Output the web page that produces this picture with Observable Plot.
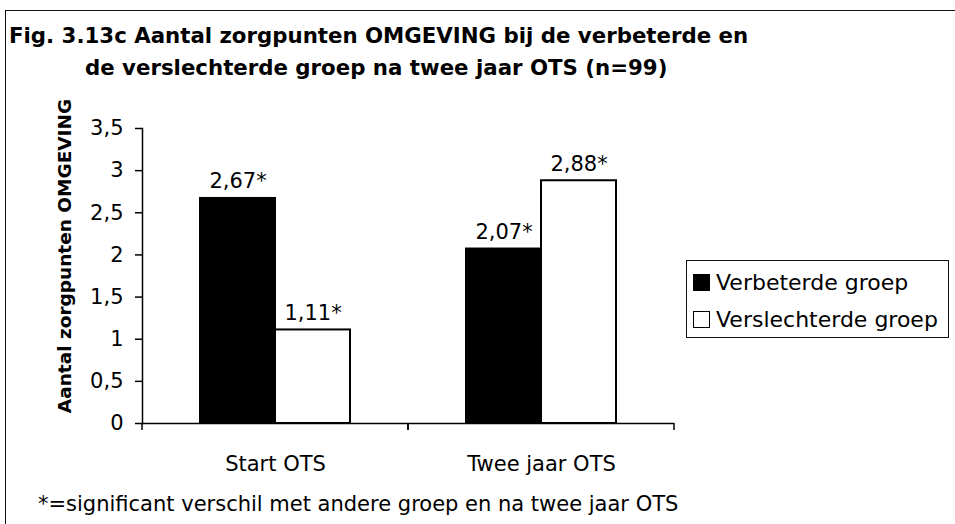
<!DOCTYPE html>
<html><head><meta charset="utf-8">
<script src="https://cdn.jsdelivr.net/npm/d3@7"></script>
<script src="https://cdn.jsdelivr.net/npm/@observablehq/plot@0.6"></script>
<style>
body{margin:0;background:#fff;font-family:"DejaVu Sans",sans-serif;color:#000;}
#wrap{position:relative;width:955px;height:524px;overflow:hidden;background:#fff;}
#box{position:absolute;left:5px;top:10px;width:990px;height:560px;border-left:1.5px solid #111;border-top:1.5px solid #111;}
#title{position:absolute;left:9px;top:20px;font-weight:bold;font-size:21.3px;line-height:32px;white-space:nowrap;}
#title .l2{padding-left:76px;}
#chart{position:absolute;left:0;top:0;}
#legend{position:absolute;left:686px;top:260px;width:263px;height:78px;border:1.5px solid #111;box-sizing:border-box;font-size:22px;padding:3px 0 0 6px;}
#legend .row{display:flex;align-items:center;height:37px;white-space:nowrap;}
#legend .sw{width:15px;height:15px;border:1.5px solid #000;margin-right:6px;flex:none;}
#foot{position:absolute;left:38px;top:492px;font-size:21px;line-height:24px;white-space:nowrap;}
</style></head>
<body>
<div id="wrap">
  <div id="box"></div>
  <div id="chart"></div>
  <div id="title"></div>
  <div id="legend"></div>
  <div id="foot"></div>
</div>
<script>
const titleLines = ["Fig. 3.13c Aantal zorgpunten OMGEVING bij de verbeterde en", "de verslechterde groep na twee jaar OTS (n=99)"];
const yLabel = "Aantal zorgpunten OMGEVING";
const footnote = "*=significant verschil met andere groep en na twee jaar OTS";
const categories = ["Start OTS", "Twee jaar OTS"];
const groups = ["Verbeterde groep", "Verslechterde groep"];
const verbeterde = [2.67, 2.07];
const verslechterde = [1.11, 2.88];
const yTicks = [0, 0.5, 1, 1.5, 2, 2.5, 3, 3.5];
const groupColors = ["#000000", "#ffffff"];

const rows = [];
categories.forEach((c, i) => {
  rows.push({cat: c, group: groups[0], value: verbeterde[i]});
  rows.push({cat: c, group: groups[1], value: verslechterde[i]});
});
const fmt = d => String(d).replace(".", ",");
const fmtLabel = d => d.toFixed(2).replace(".", ",") + "*";

document.getElementById("title").innerHTML =
  `<div>${titleLines[0]}</div><div class="l2">${titleLines[1]}</div>`;
document.getElementById("foot").textContent = footnote;
document.getElementById("legend").innerHTML = groups.map((g, i) =>
  `<div class="row"><span class="sw" style="background:${groupColors[i]}"></span><span>${g}</span></div>`).join("");

function boundaryTicks(index, scales, values, dims) {
  const x = scales.x;
  const r = x && x.range ? x.range() : [dims.marginLeft, dims.width - dims.marginRight];
  const y0 = dims.height - dims.marginBottom;
  const g = d3.create("svg:g").attr("stroke", "#000").attr("stroke-width", 1.5);
  for (const px of r) g.append("line").attr("x1", px).attr("x2", px).attr("y1", y0).attr("y2", y0 + 7);
  return g.node();
}

const chart = Plot.plot({
  width: 955,
  height: 500,
  marginLeft: 142,
  marginRight: 281,
  marginTop: 128,
  marginBottom: 77,
  style: {fontFamily: "DejaVu Sans", fontSize: "21px", color: "#000", background: "transparent", overflow: "visible"},
  fx: {domain: categories, padding: 0, label: null, axis: null},
  x: {domain: groups, paddingInner: 0, paddingOuter: 0.757, axis: null},
  y: {domain: [0, 3.5], axis: null},
  color: {domain: groups, range: groupColors},
  marks: [
    Plot.barY(rows, {fx: "cat", x: "group", y: "value", fill: "group", stroke: "#000", strokeWidth: 2}),
    Plot.ruleY([0], {stroke: "#000", strokeWidth: 1.5}),
    Plot.frame({anchor: "left", facetAnchor: "left", stroke: "#000", strokeWidth: 1.5}),
    Plot.axisY({ticks: yTicks, tickSize: 7, tickPadding: 12, tickFormat: fmt, strokeWidth: 1.5, label: null, fontSize: 21}),
    Plot.text([yLabel], {frameAnchor: "left", facetAnchor: "left", rotate: -90, textAnchor: "middle", lineAnchor: "bottom", dx: -72, dy: -20,
      fontSize: 18.5, fontWeight: "bold", fill: "#000"}),
    Plot.axisFx({anchor: "bottom", tickSize: 0, tickPadding: 33, label: null, fontSize: 21}),
    Plot.text(rows, {fx: "cat", x: "group", y: "value", text: d => fmtLabel(d.value), lineAnchor: "bottom", dy: -10, fontSize: 21}),
    boundaryTicks
  ]
});
document.getElementById("chart").appendChild(chart);
</script>
</body></html>
